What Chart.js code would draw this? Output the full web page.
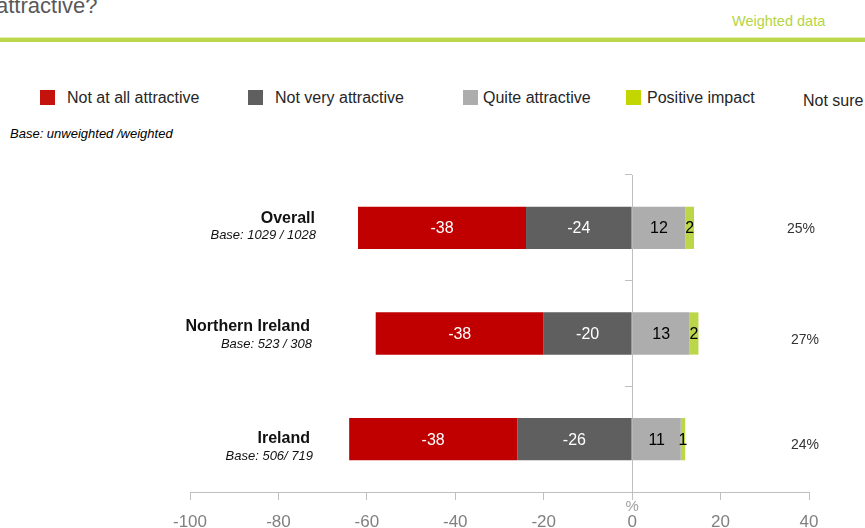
<!DOCTYPE html>
<html>
<head>
<meta charset="utf-8">
<script src="https://cdn.jsdelivr.net/npm/chart.js@4/dist/chart.umd.min.js"></script>
<style>
  html, body { margin:0; padding:0; background:#fff; }
  body { width:865px; height:528px; position:relative; overflow:hidden; font-family:"Liberation Sans", Arial, sans-serif; }
  #wrap { position:absolute; left:0; top:0; width:865px; height:528px; }
  .abs { position:absolute; white-space:nowrap; }
  .title { left:-4px; top:-5px; font-size:22px; line-height:22px; color:#595959; }
  .wd { left:732px; top:13px; font-size:14.5px; line-height:16px; color:#b5d444; }
  .line1 { left:0; top:37px; width:865px; height:1px; background:#e2eeb6; }
  .line2 { left:0; top:38px; width:865px; height:4px; background:#bcd84a; }
  .lg { font-size:16px; line-height:18px; color:#262626; top:89px; }
  .sw { position:absolute; width:15px; height:15px; top:90px; }
  .basehdr { left:10px; top:126px; font-size:13px; line-height:15px; font-style:italic; color:#000; }
</style>
</head>
<body>
<div class="abs title">attractive?</div>
<div class="abs wd">Weighted data</div>
<div class="abs line1"></div>
<div class="abs line2"></div>
<div id="legend"></div>
<div class="abs basehdr">Base: unweighted /weighted</div>
<div id="wrap"><canvas id="c" width="865" height="528"></canvas></div>
<script>
// ---- data ----
const categories = ['Overall', 'Northern Ireland', 'Ireland'];
const baseLabels = ['Base: 1029 / 1028', 'Base: 523 / 308', 'Base: 506/ 719'];
const notAtAll = [-38, -38, -38];
const notVery = [-24, -20, -26];
const quite = [12, 13, 11];
const positive = [2, 2, 1];
const notSure = ['25%', '27%', '24%'];
const seriesNames = ['Not at all attractive', 'Not very attractive', 'Quite attractive', 'Positive impact', 'Not sure'];
const xTicks = [-100, -80, -60, -40, -20, 0, 20, 40];

// ---- styling ----
const colors = { notAtAll:'#c00000', notVery:'#5f5f5f', quite:'#adadad', positive:'#bcd64a' };
const legendSwatch = ['#c4120c', '#5f5f5f', '#adadad', '#c4d600', null];
const legendSwatchX = [40, 248, 463, 626, null];
const legendTextX = [67, 275, 483, 647, 803];
const legendTextTop = [89, 89, 89, 89, 92];

const lg = document.getElementById('legend');
seriesNames.forEach((n, i) => {
  if (legendSwatch[i]) {
    const s = document.createElement('div');
    s.className = 'sw'; s.style.left = legendSwatchX[i] + 'px'; s.style.background = legendSwatch[i];
    lg.appendChild(s);
  }
  const t = document.createElement('div');
  t.className = 'abs lg'; t.style.left = legendTextX[i] + 'px'; t.style.top = legendTextTop[i] + 'px';
  t.textContent = n;
  lg.appendChild(t);
});

// category label layout (right edge & vertical offsets from bar centre)
const catLayout = [
  { nameX: 315, nameDy: -9, baseX: 316, baseDy: 8 },
  { nameX: 310, nameDy: -7, baseX: 312, baseDy: 11 },
  { nameX: 310, nameDy: -1, baseX: 313, baseDy: 17 }
];
const notSureDy = [1, 7, 6];
const notSureX = [801, 805, 805];

const labelPlugin = {
  id: 'labels',
  afterDatasetsDraw(chart) {
    const ctx = chart.ctx;
    ctx.save();
    // values inside bars
    chart.data.datasets.forEach((ds, di) => {
      const meta = chart.getDatasetMeta(di);
      meta.data.forEach((bar, i) => {
        const cx = (bar.x + bar.base) / 2;
        ctx.font = '16px "Liberation Sans", Arial, sans-serif';
        ctx.fillStyle = ds.labelColor;
        ctx.textAlign = 'center';
        ctx.textBaseline = 'middle';
        ctx.fillText(String(ds.data[i]), cx, bar.y + 1);
      });
    });
    // category names and bases
    const meta0 = chart.getDatasetMeta(0);
    meta0.data.forEach((bar, i) => {
      const L = catLayout[i];
      ctx.textAlign = 'right';
      ctx.textBaseline = 'middle';
      ctx.fillStyle = '#111';
      ctx.font = 'bold 16px "Liberation Sans", Arial, sans-serif';
      ctx.fillText(categories[i], L.nameX, bar.y + L.nameDy);
      ctx.font = 'italic 13px "Liberation Sans", Arial, sans-serif';
      ctx.fillText(baseLabels[i], L.baseX, bar.y + L.baseDy);
      // not sure
      ctx.textAlign = 'center';
      ctx.fillStyle = '#333';
      ctx.font = '14px "Liberation Sans", Arial, sans-serif';
      ctx.fillText(notSure[i], notSureX[i], bar.y + notSureDy[i]);
    });
    // % unit under zero
    const xs = chart.scales.x;
    ctx.textAlign = 'center';
    ctx.textBaseline = 'middle';
    ctx.fillStyle = '#a0a0a0';
    ctx.font = '15px "Liberation Sans Narrow", "Liberation Sans", Arial, sans-serif';
    ctx.fillText('%', xs.getPixelForValue(0), 507);
    ctx.restore();
  }
};

new Chart(document.getElementById('c'), {
  type: 'bar',
  data: {
    labels: categories,
    datasets: [
      { label: seriesNames[1], data: notVery, backgroundColor: colors.notVery, labelColor: '#fff' },
      { label: seriesNames[0], data: notAtAll, backgroundColor: colors.notAtAll, labelColor: '#fff' },
      { label: seriesNames[2], data: quite, backgroundColor: colors.quite, labelColor: '#000' },
      { label: seriesNames[3], data: positive, backgroundColor: colors.positive, labelColor: '#000' }
    ]
  },
  options: {
    indexAxis: 'y',
    responsive: false,
    animation: false,
    events: [],
    layout: { padding: { left: 190, right: 56, top: 175, bottom: 0 } },
    datasets: { bar: { categoryPercentage: 1, barPercentage: 0.4, borderWidth: 0 } },
    plugins: { legend: { display: false }, tooltip: { enabled: false }, title: { display: false } },
    scales: {
      x: {
        type: 'linear', stacked: true, min: -100, max: 40,
        afterBuildTicks(s) { s.ticks = xTicks.map(v => ({ value: v })); },
        afterFit(s) { s.height = 36; },
        grid: { drawOnChartArea: false, drawTicks: true, tickLength: 8, color: '#bfbfbf', lineWidth: 1 },
        border: { display: true, color: '#bfbfbf', width: 1 },
        ticks: {
          padding: 12, color: '#808080', maxRotation: 0,
          font: { family: '"Liberation Sans Narrow", "Liberation Sans", Arial, sans-serif', size: 17 }
        }
      },
      y: {
        type: 'category', stacked: true, position: { x: 0 },
        afterFit(s) { s.width = 0; },
        grid: { drawOnChartArea: false, drawTicks: true, tickLength: 7, color: '#bfbfbf', offset: true },
        border: { display: true, color: '#bfbfbf', width: 1 },
        ticks: { display: false }
      }
    }
  },
  plugins: [labelPlugin]
});
</script>
</body>
</html>
